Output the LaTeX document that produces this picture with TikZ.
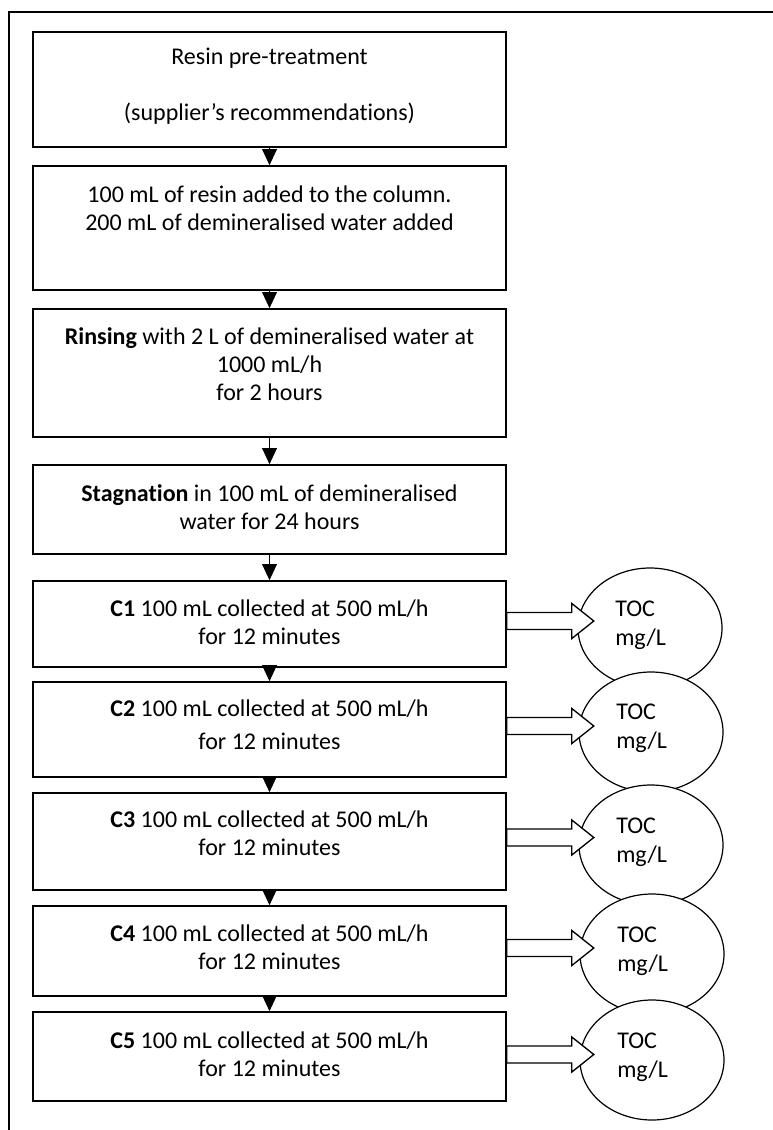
\documentclass[tikz,border=0pt]{standalone}
\usepackage{fontspec}
\setmainfont{Carlito}[Ligatures=NoCommon]
\usetikzlibrary{shapes.geometric,arrows.meta,calc}
\begin{document}
\begin{tikzpicture}[x=0.75pt,y=-0.75pt,
  box/.style={draw, line width=1.2pt, minimum width=354.75pt, inner sep=0pt},
  txt/.style={font=\fontsize{18}{21}\selectfont, align=center, inner sep=0pt},
  toc/.style={draw, ellipse, fill=white, line width=0.9pt, minimum width=108pt, minimum height=90pt, inner sep=0pt},
  toctxt/.style={font=\fontsize{18}{22}\selectfont, align=left, anchor=west, inner sep=0pt},
  down/.style={line width=1pt, -{Triangle[width=11pt,length=12pt]}},
  blockarr/.style={draw, fill=white, line width=1pt, line join=miter}]
\useasboundingbox (0,0) rectangle (773,1130);
\draw[line width=1pt] (773,12) -- (9,12) -- (9,1130);

% boxes
\node[box, minimum height=86.25pt] (b1) at (269.5,89.5) {};
\node[box, minimum height=93pt]    (b2) at (269.5,228) {};
\node[box, minimum height=96pt]    (b3) at (269.5,373) {};
\node[box, minimum height=66.75pt] (b4) at (269.5,509.5) {};
\node[box, minimum height=64.5pt]  (c1) at (269.5,624) {};
\node[box, minimum height=71.25pt] (c2) at (269.5,729.5) {};
\node[box, minimum height=72.75pt] (c3) at (269.5,841.5) {};
\node[box, minimum height=67.5pt]  (c4) at (269.5,951) {};
\node[box, minimum height=66.75pt] (c5) at (269.5,1056.5) {};

% texts
\node[txt] (t1) at (269.5,86.5) {Resin pre-treatment\\[\baselineskip](supplier’s recommendations)};
\node[txt] (t2) at (269.5,208.5) {100 mL of resin added to the column.\\200 mL of demineralised water added};
\node[txt] (t3) at (269.5,364) {\textbf{Rinsing} with 2 L of demineralised water at\\1000 mL/h\\for 2 hours};
\node[txt] (t4) at (269.5,507.5) {\textbf{Stagnation} in 100 mL of demineralised\\water for 24 hours};
\node[txt] (tc1) at (269.5,622.5) {\textbf{C1} 100 mL collected at 500 mL/h\\for 12 minutes};
\node[txt] (tc2) at (269.5,724.5) {\textbf{C2} 100 mL collected at 500 mL/h\\[4pt]for 12 minutes};
\node[txt] (tc3) at (269.5,833) {\textbf{C3} 100 mL collected at 500 mL/h\\for 12 minutes};
\node[txt] (tc4) at (269.5,947) {\textbf{C4} 100 mL collected at 500 mL/h\\for 12 minutes};
\node[txt] (tc5) at (269.5,1054) {\textbf{C5} 100 mL collected at 500 mL/h\\for 12 minutes};

% down arrows
\draw[down] (b1.south) -- (b2.north);
\draw[down] (b2.south) -- (b3.north);
\draw[down] (b3.south) -- (b4.north);
\draw[down] (b4.south) -- (c1.north);
\draw[down] (c1.south) -- (c2.north);
\draw[down] (c2.south) -- (c3.north);
\draw[down] (c3.south) -- (c4.north);
\draw[down] (c4.south) -- (c5.north);

% TOC ellipses
\node[toc] (e1) at (650,628) {};
\node[toctxt] (et1) at (615,625) {TOC\\mg/L};
\node[toc] (e2) at (651,732) {};
\node[toctxt] (et2) at (616,728) {TOC\\mg/L};
\node[toc] (e3) at (651,845) {};
\node[toctxt] (et3) at (616,842) {TOC\\mg/L};
\node[toc] (e4) at (652,954) {};
\node[toctxt] (et4) at (617,951) {TOC\\mg/L};
\node[toc] (e5) at (652,1060) {};
\node[toctxt] (et5) at (617,1057) {TOC\\mg/L};

% block arrows
\foreach \b/\e/\dy in {c1/e1/-3, c2/e2/-3.5, c3/e3/-4, c4/e4/-3, c5/e5/-2} {
  \draw[blockarr] ($(\b.east)+(0,\dy)$) ++(0,-8.5) -- ++(65,0) -- ++(0,-9)
     -- ++(22,17.5) -- ++(-22,17.5) -- ++(0,-9) -- ++(-65,0) -- cycle;
}
\end{tikzpicture}
\end{document}
